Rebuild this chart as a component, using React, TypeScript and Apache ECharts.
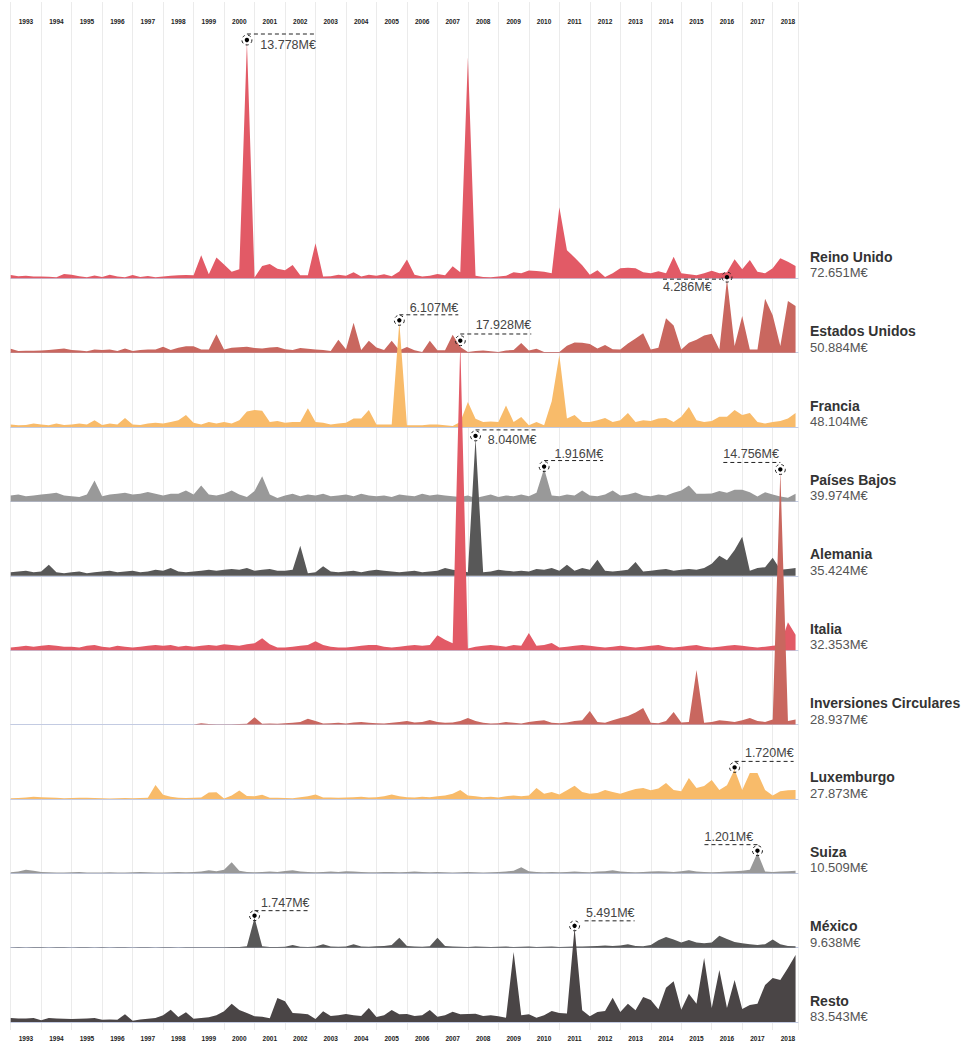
import React, { useEffect, useRef } from "react";
import * as echarts from "echarts";

const yearLabels = ["1993","1994","1995","1996","1997","1998","1999","2000","2001","2002","2003","2004","2005","2006","2007","2008","2009","2010","2011","2012","2013","2014","2015","2016","2017","2018"];

const seriesNames = ["Reino Unido","Estados Unidos","Francia","Países Bajos","Alemania","Italia","Inversiones Circulares","Luxemburgo","Suiza","México","Resto"];
const totals = [72651, 50884, 48104, 39974, 35424, 32353, 28937, 27873, 10509, 9638, 83543];
const colors = ["#e25a66","#c9675f","#f8bb6a","#999999","#585858","#e25a66","#c9675f","#f8bb6a","#999999","#585858","#4a4546"];

// quarterly values, M€ (1993 Q1 .. 2018 Q4)
const reinoUnido = [190,120,150,110, 100,90,60,250, 200,120,60,170, 80,200,100,60, 190,80,130,60, 100,150,180,190, 180,1340,230,1220, 800,385,525,13778, 50,720,830,560, 470,770,175,175, 2050,100,120,200, 150,350,100,200, 150,230,120,400, 1100,200,100,150, 250,180,700,350, 12890,150,80,60, 100,150,350,300, 450,420,380,300, 4140,1630,1220,760, 200,470,80,300, 580,610,580,350, 290,410,290,1260, 290,230,175,290, 440,290,350,1110, 525,1070,385,290, 580,1170,970,720];
const estadosUnidos = [230,100,110,115, 130,155,200,250, 155,120,80,190, 150,190,100,250, 100,150,190,190, 350,155,290,370, 370,190,190,1070, 190,290,320,350, 270,250,300,330, 200,155,270,230, 180,150,100,760, 200,1750,150,700, 300,150,700,135, 330,135,40,700, 135,135,1050,330, 40,100,130,80, 40,130,150,570, 130,230,40,40, 40,400,600,580, 500,250,450,200, 190,540,820,1130, 190,290,2000,1590, 190,580,760,1000, 1110,190,4286,390, 2140,190,190,3150, 2180,390,3010,2720];
const francia = [150,100,120,200, 150,100,200,120, 150,200,150,400, 120,200,150,520, 150,120,200,250, 200,300,400,700, 250,150,300,200, 300,200,400,900, 990,950,300,350, 250,300,300,1100, 300,250,150,200, 250,500,500,990, 150,150,150,6107, 100,100,100,150, 150,100,60,290, 1460,480,290,330, 290,1260,290,580, 100,290,100,1500, 4200,500,700,300, 290,400,520,300, 400,820,300,400, 350,500,520,300, 600,1170,400,300, 350,600,600,990, 700,820,300,200, 300,350,500,820];
const paisesBajos = [350,400,300,350, 400,450,500,350, 300,250,400,1220, 300,400,450,500, 400,450,550,450, 350,450,450,640, 400,930,400,350, 450,640,400,250, 600,1460,400,200, 350,450,300,400, 350,450,300,350, 400,300,450,350, 300,350,250,400, 350,300,450,350, 400,350,300,250, 350,200,300,400, 250,350,300,400, 300,500,1916,350, 300,400,350,640, 350,300,400,640, 350,400,520,350, 300,400,350,500, 640,930,450,450, 460,600,510,680, 680,540,290,540, 400,290,220,450];
const alemania = [200,250,300,200, 250,640,200,150, 200,250,150,200, 250,300,200,250, 300,200,250,350, 300,460,250,200, 250,300,350,300, 350,400,350,460, 300,350,400,300, 300,350,1750,150, 200,560,250,200, 250,300,200,300, 350,300,250,200, 250,300,200,250, 300,450,350,300, 200,8040,200,250, 350,300,250,300, 250,400,350,460, 300,640,300,460, 350,930,300,250, 300,350,810,250, 300,350,400,300, 350,400,350,460, 700,1170,900,1500, 2270,300,450,500, 1050,350,400,460];
const italia = [150,200,250,200, 250,300,250,200, 200,150,250,300, 200,150,250,200, 150,200,250,300, 250,300,200,250, 200,250,300,250, 350,300,250,350, 400,700,350,150, 150,200,250,300, 520,300,200,150, 150,200,250,300, 300,200,150,200, 250,300,250,300, 870,600,400,17928, 100,200,250,300, 250,200,300,250, 1000,250,300,420, 150,200,250,300, 250,200,150,200, 250,200,150,200, 250,300,200,150, 200,250,300,200, 150,200,250,300, 250,200,150,200, 250,300,1630,900];
const inversionesCirculares = [0,0,0,0, 0,0,0,0, 0,0,0,0, 0,0,0,0, 0,0,0,0, 0,0,0,0, 0,80,30,20, 10,20,30,50, 430,40,60,50, 80,100,150,330, 200,60,80,100, 60,120,150,100, 80,60,100,150, 200,120,150,260, 150,100,120,200, 380,200,100,60, 80,150,100,60, 150,200,250,100, 80,120,200,250, 790,150,100,250, 380,500,700,960, 100,80,200,730, 120,150,3180,100, 150,250,200,150, 250,380,200,150, 300,14756,200,300];
const luxemburgo = [40,50,80,120, 100,80,60,40, 50,70,60,50, 40,30,40,50, 40,50,60,815, 235,120,60,50, 60,80,370,390, 20,200,485,175, 150,235,60,60, 50,40,100,150, 250,80,80,60, 80,100,120,80, 100,150,250,150, 100,80,120,100, 150,200,300,525, 200,150,100,120, 80,150,200,150, 200,640,300,400, 250,500,760,400, 300,350,520,400, 300,450,580,640, 500,600,930,520, 450,1220,640,750, 1100,520,800,1720, 520,1510,1510,520, 200,450,500,520];
const suiza = [60,100,200,150, 80,60,40,50, 60,80,50,40, 50,60,40,50, 60,80,60,50, 40,60,80,60, 80,100,175,120, 200,640,150,80, 60,80,100,80, 130,175,100,80, 60,80,100,80, 120,100,80,60, 60,80,70,60, 80,100,80,60, 80,60,50,60, 80,60,50,60, 80,100,150,350, 120,80,60,80, 60,80,100,80, 60,100,120,175, 100,80,60,80, 100,120,100,80, 120,175,100,80, 60,80,100,120, 150,200,1201,100, 80,100,120,150];
const mexico = [10,15,10,20, 15,10,20,15, 10,15,20,10, 15,10,20,15, 10,20,15,10, 20,15,10,20, 15,20,25,20, 20,30,40,80, 1747,80,40,30, 50,150,50,40, 60,200,60,50, 60,200,60,50, 80,100,150,580, 100,60,50,80, 580,100,60,50, 40,60,50,40, 50,60,40,50, 60,40,50,60, 40,50,60,70, 80,100,120,100, 120,190,100,80, 150,430,620,470, 300,450,300,250, 300,700,500,330, 250,200,150,200, 470,200,100,80];
const resto = [230,200,210,230, 100,230,200,190, 180,190,210,230, 135,150,135,450, 80,150,190,230, 400,720,290,570, 190,230,270,400, 620,1070,700,525, 330,300,215,1400, 1210,525,500,450, 175,620,350,400, 470,400,350,820, 290,400,700,450, 470,350,400,700, 300,400,600,450, 470,485,350,390, 330,250,4080,390, 450,250,400,640, 525,500,5491,680, 330,580,640,1420, 580,1070,680,1460, 1280,740,2000,2380, 720,1650,1070,3730, 820,3030,820,2450, 760,990,1070,2160, 2570,2450,3150,3900];

const seriesValues = [reinoUnido, estadosUnidos, francia, paisesBajos, alemania, italia, inversionesCirculares, luxemburgo, suiza, mexico, resto];

// layout
const LEFT = 10.7;
const RIGHT = 164;
const FIRST_BASE = 278.3;
const ROW = 74.37;
const PX_PER_1000 = 17.15;
const X_MIN = 1993;
const X_MAX = 2018.83;

// annotation placement relative to the max marker
const annotLayout = [
  { x0: 0, x1: 69, lineDy: -6, textDy: 4.5, align: "right" },
  { x0: -64, x1: -6, lineDy: 2, textDy: 10, align: "left" },
  { x0: 0, x1: 59, lineDy: -5.5, textDy: -12.5, align: "right" },
  { x0: 0, x1: 59, lineDy: -6, textDy: -13, align: "right" },
  { x0: 0, x1: 61, lineDy: -6, textDy: 4.5, align: "right" },
  { x0: 0, x1: 71, lineDy: -6.7, textDy: -15.5, align: "right" },
  { x0: -57, x1: 0, lineDy: -7, textDy: -15.5, align: "left" },
  { x0: 0, x1: 59, lineDy: -6, textDy: -14, align: "right" },
  { x0: -53, x1: 0, lineDy: -6, textDy: -14, align: "left" },
  { x0: 0, x1: 55, lineDy: -5, textDy: -13, align: "right" },
  { x0: 10, x1: 60, lineDy: -5, textDy: -13, align: "right" },
];

const FONT = '"Liberation Sans", Arial, Helvetica, sans-serif';

function fmt(v: number): string {
  const th = Math.floor(v / 1000);
  const rest = String(Math.round(v % 1000)).padStart(3, "0");
  return (th > 0 ? th + "." + rest : String(Math.round(v))) + "M€";
}

export default function App() {
  const ref = useRef<HTMLDivElement>(null);
  useEffect(() => {
    if (!ref.current) return;
    const chart = echarts.init(ref.current, undefined, { renderer: "svg" });
    const H = 1042;
    const grids: any[] = [{ left: LEFT, right: RIGHT, top: 2, bottom: H - 1030 }];
    const xAxes: any[] = [];
    const yAxes: any[] = [];
    const labelStyle = {
      fontSize: 6.5,
      fontWeight: "bold",
      color: "#222",
      fontFamily: FONT,
      padding: [0, 0, 0, 30.48],
      showMaxLabel: false,
      formatter: (v: number) => {
        const idx = Math.round(v) - 1993;
        return Math.abs(v - Math.round(v)) < 1e-6 && yearLabels[idx] ? yearLabels[idx] : "";
      },
    };
    xAxes.push({
      type: "value", gridIndex: 0, position: "top", min: X_MIN, max: X_MAX, interval: 1,
      axisLine: { show: false }, axisTick: { show: false },
      splitLine: { show: true, lineStyle: { color: "#ebebeb", width: 1 } },
      axisLabel: { ...labelStyle, inside: true, margin: 16 },
    });
    xAxes.push({
      type: "value", gridIndex: 0, position: "bottom", min: X_MIN, max: X_MAX, interval: 1,
      axisLine: { show: false }, axisTick: { show: false }, splitLine: { show: false },
      axisLabel: { ...labelStyle, margin: 5 },
    });
    const yMax = (ROW / PX_PER_1000) * 1000;
    const series: any[] = [];
    seriesValues.forEach((vals, i) => {
      const base = FIRST_BASE + i * ROW;
      grids.push({ left: LEFT, right: RIGHT, top: base - ROW, height: ROW });
      xAxes.push({
        type: "value", gridIndex: i + 1, min: X_MIN, max: X_MAX,
        axisLine: { show: true, lineStyle: { color: "#c3cbe2", width: 1 } },
        axisTick: { show: false }, axisLabel: { show: false }, splitLine: { show: false },
      });
      yAxes.push({ type: "value", gridIndex: i + 1, min: 0, max: yMax, show: false, splitLine: { show: false } });
      series.push({
        type: "line",
        name: seriesNames[i],
        xAxisIndex: i + 2,
        yAxisIndex: i,
        data: vals.map((v, q) => [X_MIN + q / 4, v]),
        symbol: "none",
        showSymbol: false,
        clip: false,
        lineStyle: { width: 0, opacity: 0 },
        areaStyle: { color: colors[i], opacity: 1 },
        z: 2 + i,
        silent: true,
      });
    });
    yAxes.push({ type: "value", gridIndex: 0, min: 0, max: 1, show: false, splitLine: { show: false } });

    chart.setOption({
      animation: false,
      grid: grids,
      xAxis: xAxes,
      yAxis: yAxes,
      series,
    });

    const elements: any[] = [];
    seriesValues.forEach((vals, i) => {
      const basePx = chart.convertToPixel({ seriesIndex: i } as any, [X_MIN, 0]) as number[];
      const by = basePx[1];
      elements.push({
        type: "text", x: 810, y: by - 21.5, z: 100,
        style: { text: seriesNames[i], fill: "#333", font: `bold 14px ${FONT}`, align: "left", verticalAlign: "middle", textAlign: "left", textVerticalAlign: "middle" },
      });
      elements.push({
        type: "text", x: 810, y: by - 5.5, z: 100,
        style: { text: fmt(totals[i]), fill: "#555", font: `13px ${FONT}`, align: "left", verticalAlign: "middle", textAlign: "left", textVerticalAlign: "middle" },
      });
      let mi = 0;
      vals.forEach((v, q) => { if (v > vals[mi]) mi = q; });
      const p = chart.convertToPixel({ seriesIndex: i } as any, [X_MIN + mi / 4, vals[mi]]) as number[];
      const mx = p[0];
      const my = p[1] - 2;
      const L = annotLayout[i];
      elements.push({ type: "circle", z: 101, shape: { cx: mx, cy: my, r: 5 }, style: { fill: "none", stroke: "#222", lineWidth: 1, lineDash: [3, 3] } });
      elements.push({ type: "circle", z: 102, shape: { cx: mx, cy: my, r: 2.2 }, style: { fill: "#000" } });
      elements.push({ type: "line", z: 101, shape: { x1: mx + L.x0, y1: my + L.lineDy, x2: mx + L.x1, y2: my + L.lineDy }, style: { stroke: "#222", lineWidth: 1, lineDash: [4, 3] } });
      const tx = L.align === "right" ? mx + L.x1 : mx + L.x0;
      elements.push({
        type: "text", x: tx, y: my + L.textDy, z: 102,
        style: { text: fmt(vals[mi]), fill: "#444", font: `12.5px ${FONT}`, align: L.align, verticalAlign: "middle", textAlign: L.align, textVerticalAlign: "middle" },
      });
    });
    chart.setOption({ graphic: { elements } });

    return () => chart.dispose();
  }, []);
  return <div ref={ref} style={{ position: "absolute", left: 0, top: 0, width: 962, height: 1042 }} />;
}
